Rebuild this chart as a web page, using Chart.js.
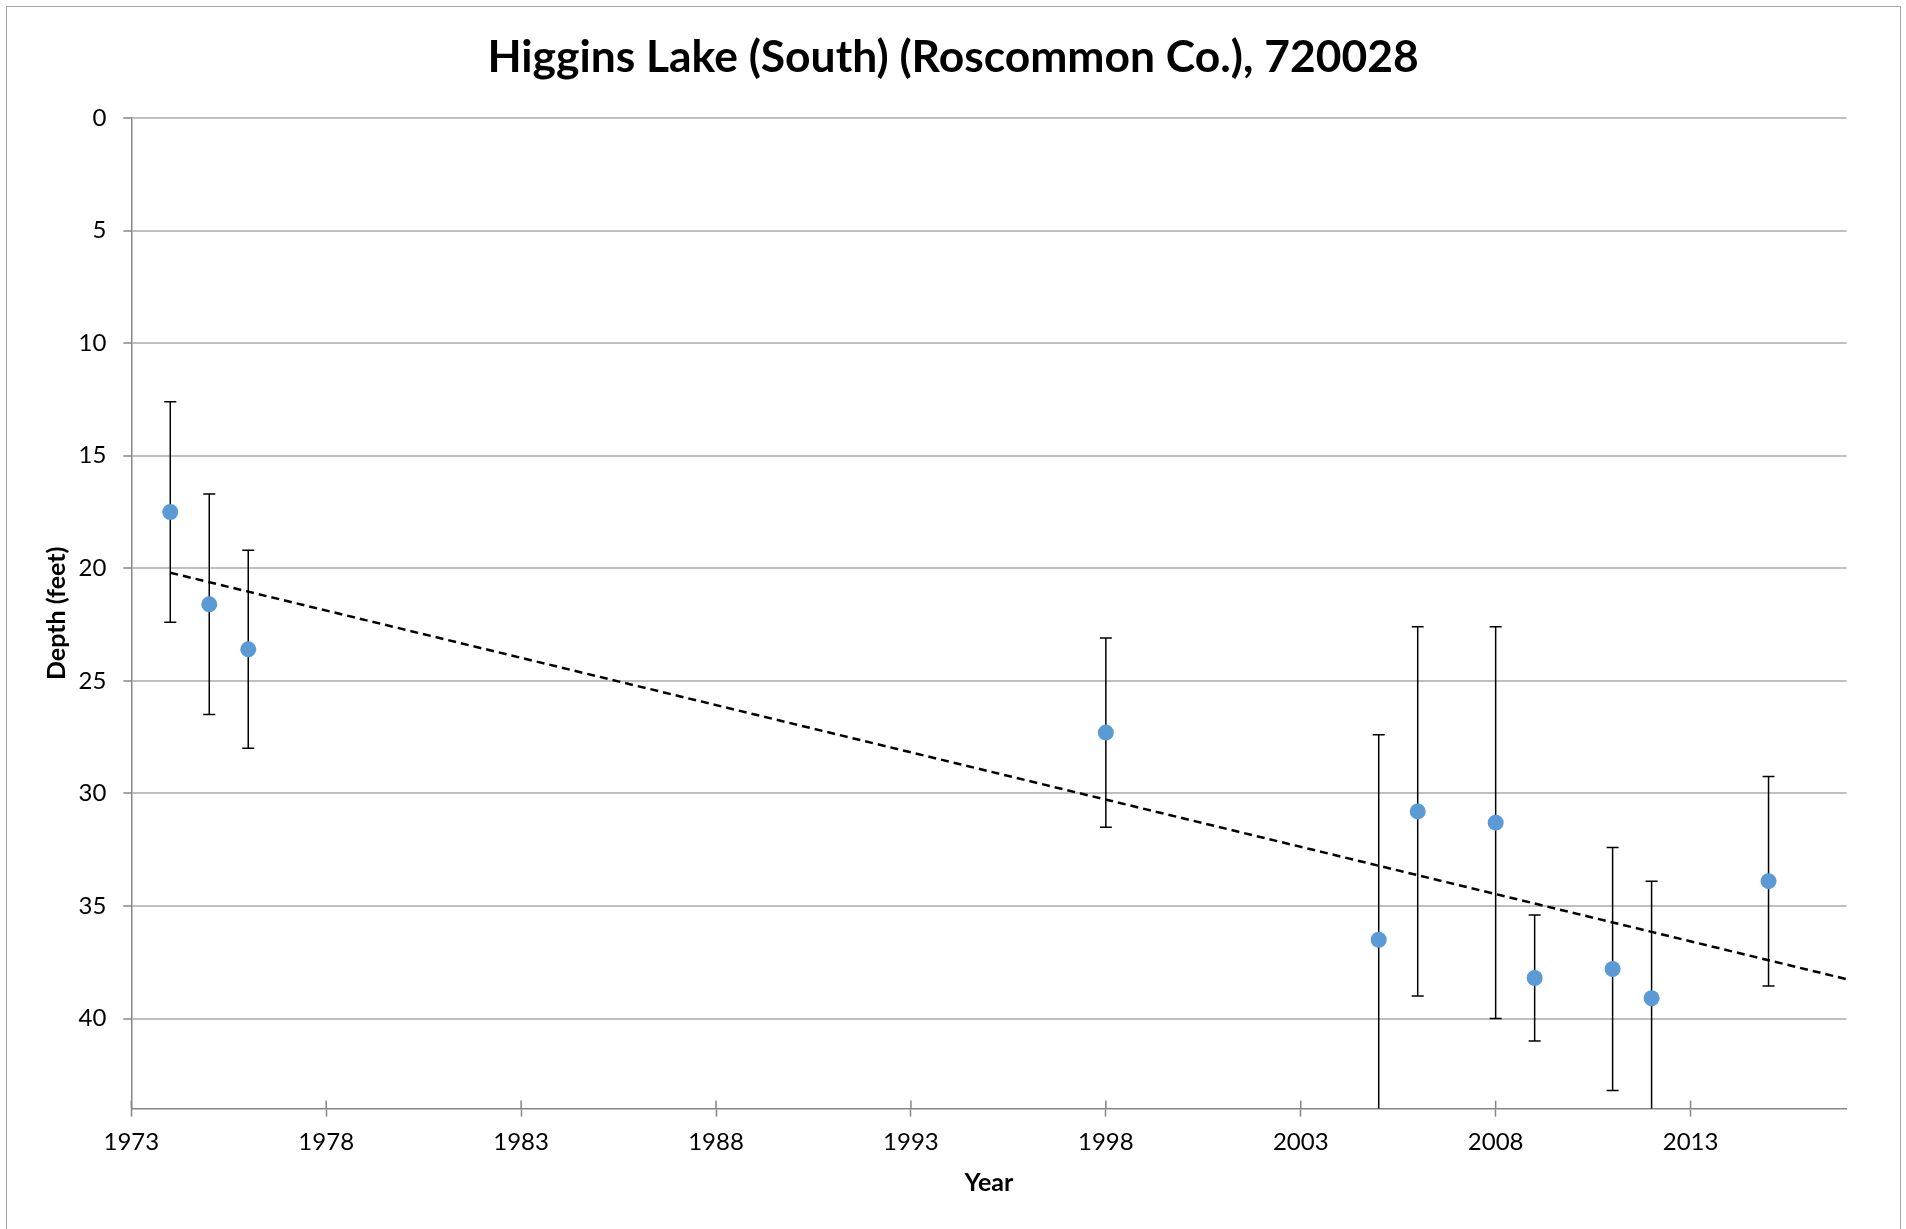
<!DOCTYPE html>
<html>
<head>
<meta charset="utf-8">
<title>Higgins Lake (South)</title>
<script src="https://cdn.jsdelivr.net/npm/chart.js@4/dist/chart.umd.min.js"></script>
<style>
  html, body { margin: 0; padding: 0; background: #fff; }
  #wrap { position: relative; width: 1906px; height: 1229px; }
  #frame {
    position: absolute; left: 6px; top: 6px; width: 1895px; height: 1240px;
    border: 1px solid #a6a6a6; box-sizing: border-box; pointer-events: none;
  }
  canvas { display: block; }
</style>
</head>
<body>
<div id="wrap">
  <canvas id="chart" width="1906" height="1229"></canvas>
  <div id="frame"></div>
</div>
<script>
// values
const years = [1974, 1975, 1976, 1998, 2005, 2006, 2008, 2009, 2011, 2012, 2015];
const depths = [17.5, 21.6, 23.6, 27.3, 36.5, 30.8, 31.3, 38.2, 37.8, 39.1, 33.9];
const depthErrors = [4.9, 4.9, 4.4, 4.2, 9.1, 8.2, 8.7, 2.8, 5.4, 5.2, 4.65];

// dashed trend line end points (year, depth)
const trendYears = [1974, 2017];
const trendDepths = [20.2, 38.25];

const xTickValues = [1973, 1978, 1983, 1988, 1993, 1998, 2003, 2008, 2013];
const yTickValues = [0, 5, 10, 15, 20, 25, 30, 35, 40];

const chartTitle = 'Higgins Lake (South) (Roscommon Co.), 720028';
const xTitle = 'Year';
const yTitle = 'Depth (feet)';

const xMin = 1973, xMax = 2017;
const yMin = 0, yMax = 44;

const axisGray = '#868686';
const gridGray = '#bfbfbf';

// vertical error bars, clipped to the plot area like Excel does
const errorBars = {
  id: 'errorBars',
  beforeDatasetsDraw(chart) {
    const { ctx, chartArea, scales: { x, y } } = chart;
    ctx.save();
    ctx.beginPath();
    ctx.rect(chartArea.left, chartArea.top, chartArea.right - chartArea.left, chartArea.bottom - chartArea.top);
    ctx.clip();
    ctx.strokeStyle = '#000';
    ctx.lineWidth = 1.5;
    years.forEach((yr, i) => {
      const px = x.getPixelForValue(yr);
      const top = y.getPixelForValue(depths[i] - depthErrors[i]);
      const bot = y.getPixelForValue(depths[i] + depthErrors[i]);
      ctx.beginPath();
      ctx.moveTo(px, top);
      ctx.lineTo(px, bot);
      ctx.moveTo(px - 6, top);
      ctx.lineTo(px + 6, top);
      ctx.moveTo(px - 6, bot);
      ctx.lineTo(px + 6, bot);
      ctx.stroke();
    });
    ctx.restore();
  }
};

// the x axis tick marks cross the axis, draw the inner half
const crossTicks = {
  id: 'crossTicks',
  afterDraw(chart) {
    const { ctx, scales: { x } } = chart;
    ctx.save();
    ctx.strokeStyle = axisGray;
    ctx.lineWidth = 1.5;
    xTickValues.forEach(v => {
      const px = x.getPixelForValue(v);
      ctx.beginPath();
      ctx.moveTo(px, x.top);
      ctx.lineTo(px, x.top - 8);
      ctx.stroke();
    });
    ctx.restore();
  }
};

new Chart(document.getElementById('chart'), {
  type: 'scatter',
  data: {
    datasets: [
      {
        label: 'Depth',
        data: years.map((yr, i) => ({ x: yr, y: depths[i] })),
        backgroundColor: '#5b9bd5',
        borderWidth: 0,
        pointRadius: 8,
        pointHoverRadius: 8,
        order: 1
      },
      {
        type: 'line',
        label: 'Trend',
        data: trendYears.map((yr, i) => ({ x: yr, y: trendDepths[i] })),
        borderColor: '#000',
        borderWidth: 2.5,
        borderDash: [8, 5],
        pointRadius: 0,
        fill: false,
        order: 0
      }
    ]
  },
  options: {
    responsive: false,
    animation: false,
    layout: { padding: 0 },
    plugins: {
      legend: { display: false },
      tooltip: { enabled: false },
      title: {
        display: true,
        text: chartTitle,
        color: '#000',
        font: { family: 'Lato', size: 44.4, weight: 'bold', lineHeight: 1.2 },
        padding: { top: 30.6, bottom: 34.1 }
      }
    },
    scales: {
      x: {
        type: 'linear',
        min: xMin,
        max: xMax,
        afterFit(scale) { scale.height = 120.4; },
        afterBuildTicks(scale) { scale.ticks = xTickValues.map(v => ({ value: v })); },
        ticks: {
          color: '#000',
          font: { family: 'Lato', size: 24 },
          padding: 11,
          maxRotation: 0,
          autoSkip: false,
          callback(value) { return String(value); }
        },
        grid: {
          drawOnChartArea: false,
          drawTicks: true,
          tickLength: 8,
          tickColor: axisGray,
          tickWidth: 1.5
        },
        border: { color: axisGray, width: 1.5 },
        title: {
          display: true,
          text: xTitle,
          color: '#000',
          font: { family: 'Lato', size: 25, weight: 'bold', lineHeight: 1.2 },
          padding: { top: 0, bottom: 31 }
        }
      },
      y: {
        type: 'linear',
        reverse: true,
        min: yMin,
        max: yMax,
        afterFit(scale) { scale.width = 131.3; },
        afterBuildTicks(scale) { scale.ticks = yTickValues.map(v => ({ value: v })); },
        ticks: {
          color: '#000',
          font: { family: 'Lato', size: 24 },
          padding: 17,
          autoSkip: false,
          callback(value) { return String(value); }
        },
        grid: {
          color: gridGray,
          lineWidth: 2,
          tickLength: 8,
          tickColor: axisGray,
          tickWidth: 1.5
        },
        border: { color: axisGray, width: 1.5 },
        title: {
          display: true,
          text: yTitle,
          color: '#000',
          font: { family: 'Lato', size: 25, weight: 'bold', lineHeight: 1.2 },
          padding: { top: 42, bottom: 0 }
        }
      },
      // empty right margin so the plot ends where the reference does
      yRight: {
        type: 'linear',
        position: 'right',
        min: yMin,
        max: yMax,
        afterFit(scale) { scale.width = 59.5; },
        ticks: { display: false },
        grid: { display: false },
        border: { display: false }
      }
    }
  },
  plugins: [errorBars, crossTicks]
});
</script>
</body>
</html>
